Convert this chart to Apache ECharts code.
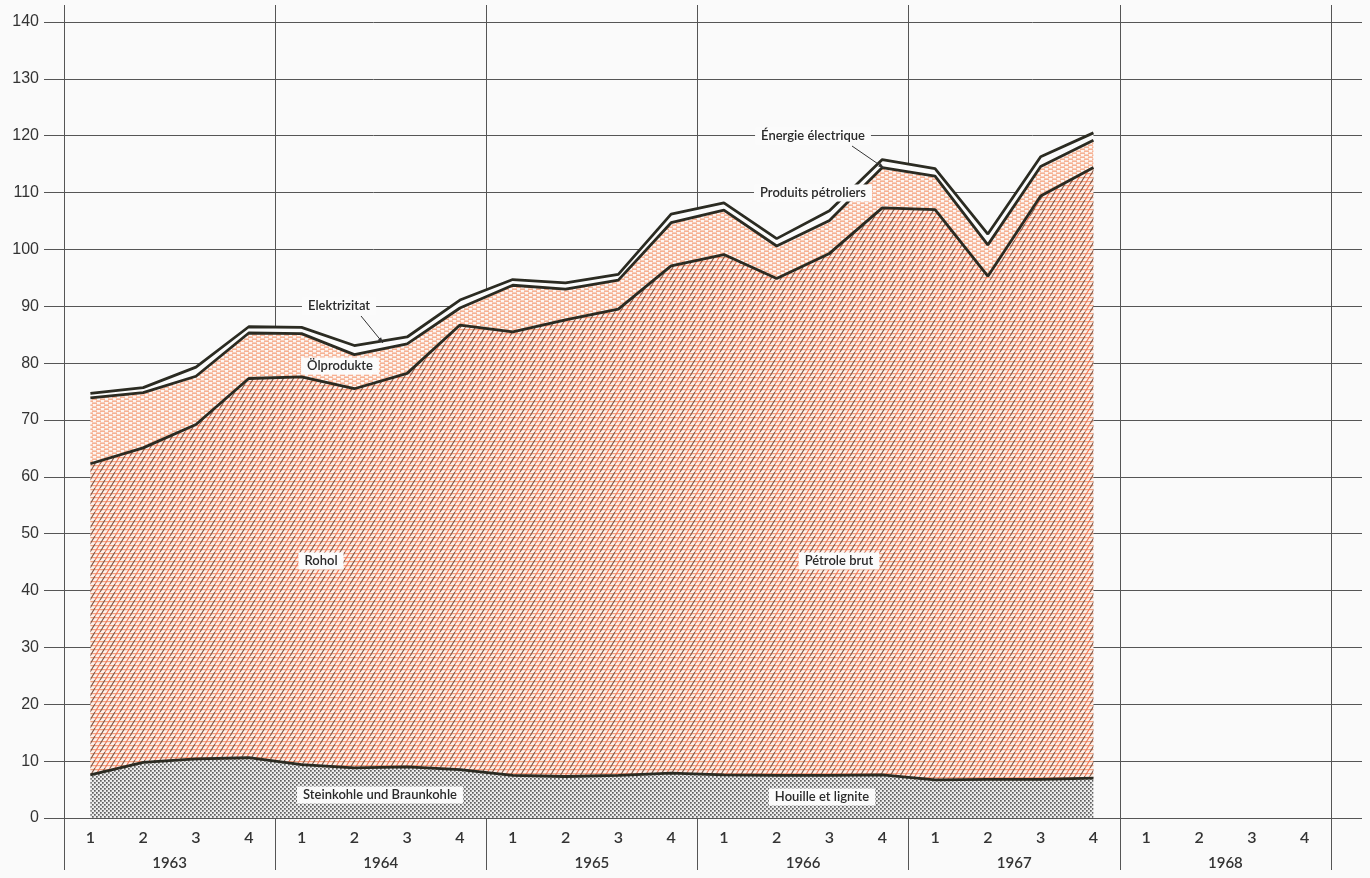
<!DOCTYPE html>
<html>
<head>
<meta charset="utf-8">
<script src="https://cdn.jsdelivr.net/npm/echarts@6/dist/echarts.min.js"></script>
<style>
html,body{margin:0;padding:0;background:#fafafa;}
#chart{width:1370px;height:878px;}
</style>
</head>
<body>
<div id="chart"></div>
<script>
// ---- data ----
const years = ['1963','1964','1965','1966','1967','1968'];
const quarterLabels = ['1','2','3','4'];
// Steinkohle und Braunkohle / Houille et lignite
const coal = [7.6, 9.8, 10.4, 10.6, 9.4, 8.8, 9.0, 8.5, 7.5, 7.3, 7.5, 7.9, 7.6, 7.5, 7.5, 7.6, 6.7, 6.8, 6.8, 7.0];
// Rohöl / Pétrole brut
const crudeOil = [54.7, 55.3, 58.8, 66.7, 68.2, 66.7, 69.2, 78.2, 78.0, 80.3, 82.0, 89.2, 91.5, 87.4, 91.8, 99.7, 100.3, 88.5, 102.6, 107.4];
// Ölprodukte / Produits pétroliers
const oilProducts = [11.6, 9.7, 8.5, 8.0, 7.6, 6.0, 5.2, 3.0, 8.2, 5.4, 5.1, 7.6, 7.8, 5.7, 5.8, 7.1, 5.9, 5.5, 5.2, 4.8];
// Elektrizität / Énergie électrique
const electricity = [0.8, 0.9, 1.6, 1.1, 1.1, 1.6, 1.2, 1.4, 1.0, 1.1, 1.0, 1.5, 1.3, 1.3, 1.7, 1.4, 1.3, 1.9, 1.7, 1.3];
const yMin = 0, yMax = 140, yStep = 10;

const categories = [];
years.forEach(y => quarterLabels.forEach(q => categories.push(y + '-' + q)));

// ---- patterns ----
function makeCanvas(w, h, draw) {
  const c = document.createElement('canvas');
  c.width = w; c.height = h;
  draw(c.getContext('2d'));
  return c;
}
const crudePat = makeCanvas(10, 8, ctx => {
  ctx.fillStyle = '#fcf1eb'; ctx.fillRect(0, 0, 10, 8);
  ctx.fillStyle = '#f5a27f';
  ctx.fillRect(0, 1, 10, 1.2); ctx.fillRect(0, 5, 10, 1.2);
  ctx.lineWidth = 1.15;
  const seg = (x0, col) => { ctx.strokeStyle = col; ctx.beginPath(); ctx.moveTo(x0, 8); ctx.lineTo(x0 + 5, 0); ctx.stroke(); };
  [-5, 5, 15].forEach(x => seg(x, '#ea7456'));
  [-10, 0, 10].forEach(x => seg(x, '#7f5444'));
});
const oilPat = makeCanvas(8, 4, ctx => {
  ctx.fillStyle = '#fdf6f2'; ctx.fillRect(0, 0, 8, 4);
  ctx.fillStyle = '#f4a07c';
  ctx.fillRect(0, 0.5, 5, 1.3);
  ctx.fillRect(4, 2.5, 4, 1.3); ctx.fillRect(0, 2.5, 1, 1.3);
});
const coalPat = makeCanvas(4, 4, ctx => {
  ctx.fillStyle = '#ececec'; ctx.fillRect(0, 0, 4, 4);
  ctx.fillStyle = '#5f5f5f';
  ctx.fillRect(0, 0, 1.7, 1.7); ctx.fillRect(2, 2, 1.7, 1.7);
});

const lineCol = '#2b2b22';
const labelFont = 'Lato, "DejaVu Sans", sans-serif';

function band(name, data, pattern, z) {
  return {
    type: 'line', name, data, stack: 'energy', xAxisIndex: 0, yAxisIndex: 1,
    symbol: 'none', z,
    lineStyle: { color: lineCol, width: 2.8 },
    areaStyle: { color: pattern, opacity: 1 }
  };
}

// ---- annotations (layout only) ----
const notes = [
  { t: 'Elektrizitat', x: 339, y: 306 },
  { t: 'Ölprodukte', x: 340, y: 366 },
  { t: 'Énergie électrique', x: 813, y: 136 },
  { t: 'Produits pétroliers', x: 813, y: 193 },
  { t: 'Rohol', x: 321, y: 561 },
  { t: 'Pétrole brut', x: 839, y: 561 },
  { t: 'Steinkohle und Braunkohle', x: 380, y: 795 },
  { t: 'Houille et lignite', x: 822, y: 797 }
];
const pointers = [
  { x1: 361, y1: 316, x2: 383, y2: 343 },
  { x1: 852, y1: 146, x2: 884, y2: 168 }
];
const graphics = [];
notes.forEach(n => graphics.push({
  type: 'text', x: n.x, y: n.y, z: 100,
  style: {
    text: n.t, fill: '#2a2a2a', font: '600 13px ' + labelFont,
    align: 'center', verticalAlign: 'middle',
    backgroundColor: '#fbfbfb', padding: [2, 6, 2, 6]
  }
}));
pointers.forEach(p => {
  graphics.push({ type: 'line', z: 100, shape: p, style: { stroke: '#333', lineWidth: 1 } });
  const a = Math.atan2(p.y2 - p.y1, p.x2 - p.x1), L = 6;
  graphics.push({ type: 'polygon', z: 100, shape: { points: [
    [p.x2, p.y2],
    [p.x2 - L * Math.cos(a - 0.35), p.y2 - L * Math.sin(a - 0.35)],
    [p.x2 - L * Math.cos(a + 0.35), p.y2 - L * Math.sin(a + 0.35)]
  ] }, style: { fill: '#333' } });
});

const chart = echarts.init(document.getElementById('chart'), null, { renderer: 'canvas' });
chart.setOption({
  backgroundColor: '#fafafa',
  animation: false,
  grid: [
    { left: 44, right: 8, top: 22, bottom: 60 },
    { left: 64, right: 39, top: 22, bottom: 60 }
  ],
  xAxis: [
    { type: 'category', gridIndex: 1, data: categories, position: 'bottom',
      axisLine: { show: false }, axisTick: { show: false }, splitLine: { show: false },
      axisLabel: { interval: 0, margin: 12, formatter: v => v.split('-')[1],
        fontFamily: labelFont, fontSize: 16, fontWeight: 600, color: '#333' } },
    { type: 'category', gridIndex: 1, data: years, position: 'bottom',
      axisLine: { show: false },
      axisTick: { show: true, length: 52, lineStyle: { color: '#555', width: 1 } },
      splitLine: { show: true, lineStyle: { color: '#555', width: 1 } },
      axisLabel: { interval: 0, margin: 38, fontFamily: labelFont, fontSize: 15, fontWeight: 600, color: '#333' } },
    { type: 'category', gridIndex: 1, data: years, position: 'top',
      axisLine: { show: false },
      axisTick: { show: true, length: 17, lineStyle: { color: '#555', width: 1 } },
      axisLabel: { show: false }, splitLine: { show: false } },
    { type: 'value', gridIndex: 0, show: false, min: 0, max: 1 }
  ],
  yAxis: [
    { type: 'value', gridIndex: 0, min: yMin, max: yMax, interval: yStep,
      axisLine: { show: false }, axisTick: { show: false },
      axisLabel: { margin: 5, fontFamily: '"Liberation Sans", Arial, sans-serif', fontSize: 16, color: '#333' },
      splitLine: { show: true, lineStyle: { color: '#555', width: 1 } } },
    { type: 'value', gridIndex: 1, min: yMin, max: yMax, interval: yStep, show: false,
      splitLine: { show: false } }
  ],
  series: [
    band('Steinkohle und Braunkohle', coal, { image: coalPat, repeat: 'repeat' }, 5),
    band('Rohöl', crudeOil, { image: crudePat, repeat: 'repeat' }, 4),
    band('Ölprodukte', oilProducts, { image: oilPat, repeat: 'repeat' }, 3),
    band('Elektrizität', electricity, '#fbfbfb', 2)
  ],
  graphic: graphics
});
</script>
</body>
</html>
